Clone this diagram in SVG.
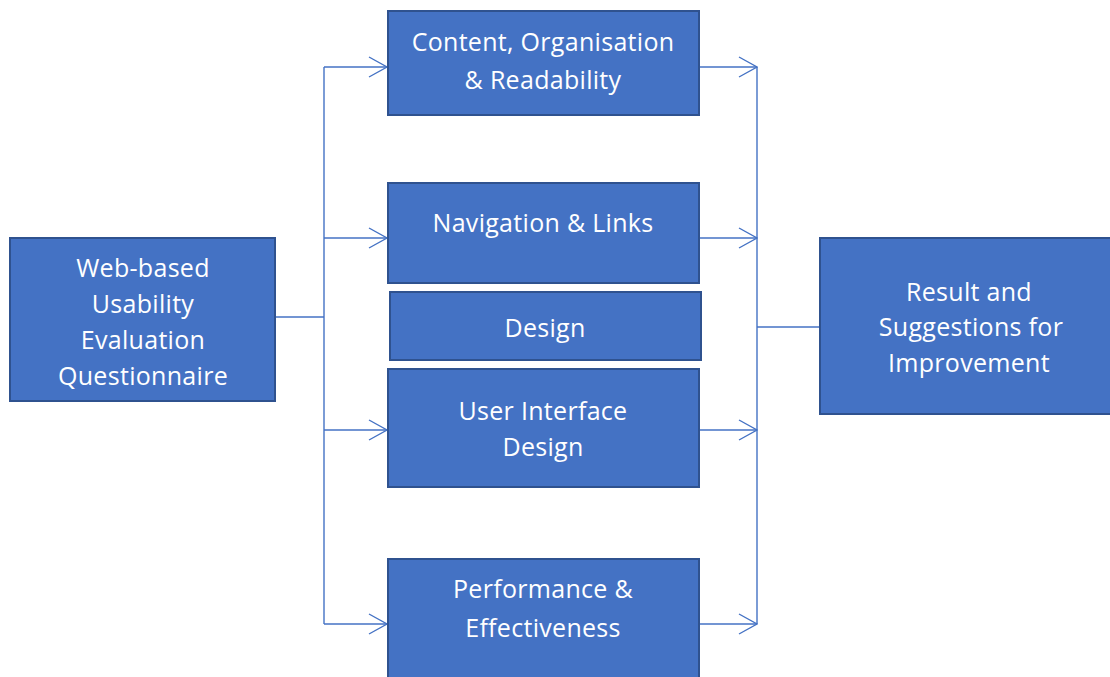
<svg xmlns="http://www.w3.org/2000/svg" width="1110" height="677" viewBox="0 0 1110 677">
  <defs>
    <marker id="arrow" viewBox="0 0 20 22" refX="19" refY="11" markerWidth="20" markerHeight="22" markerUnits="userSpaceOnUse" orient="auto">
      <path d="M1,1 L19,11 L1,21" fill="none" stroke="#4472C4" stroke-width="1.4"/>
    </marker>
  </defs>
  <style>
    .box { fill: #4472C4; stroke: #2F528F; stroke-width: 2; }
    .label { fill: #FFFFFF; font-family: "Open Sans", "Noto Sans", sans-serif; font-size: 25px; letter-spacing: 0.3px; text-anchor: middle; }
    .line { fill: none; stroke: #4472C4; stroke-width: 1.4; }
  </style>
  <rect width="1110" height="677" fill="#FFFFFF"/>

  <g id="connectors">
    <!-- fan-out from the questionnaire -->
    <path class="line" d="M275,317 H324"/>
    <path class="line" d="M324,67 V624"/>
    <path class="line" d="M324,67 H387" marker-end="url(#arrow)"/>
    <path class="line" d="M324,238 H387" marker-end="url(#arrow)"/>
    <path class="line" d="M324,430 H387" marker-end="url(#arrow)"/>
    <path class="line" d="M324,624 H387" marker-end="url(#arrow)"/>
    <!-- fan-in to the results -->
    <path class="line" d="M699,67 H757" marker-end="url(#arrow)"/>
    <path class="line" d="M699,238 H757" marker-end="url(#arrow)"/>
    <path class="line" d="M699,430 H757" marker-end="url(#arrow)"/>
    <path class="line" d="M699,624 H757" marker-end="url(#arrow)"/>
    <path class="line" d="M757,67 V624"/>
    <path class="line" d="M757,327 H820"/>
  </g>

  <g id="questionnaire">
    <rect class="box" x="10" y="238" width="265" height="163"/>
    <text class="label" x="143" y="277">Web-based</text>
    <text class="label" x="143" y="313">Usability</text>
    <text class="label" x="143" y="349">Evaluation</text>
    <text class="label" x="143" y="385">Questionnaire</text>
  </g>

  <g id="content">
    <rect class="box" x="388" y="11" width="311" height="104"/>
    <text class="label" x="543" y="51">Content, Organisation</text>
    <text class="label" x="543" y="89">&amp; Readability</text>
  </g>

  <g id="navigation">
    <rect class="box" x="388" y="183" width="311" height="100"/>
    <text class="label" x="543" y="232">Navigation &amp; Links</text>
  </g>

  <g id="design">
    <rect class="box" x="390" y="292" width="311" height="68"/>
    <text class="label" x="545" y="337">Design</text>
  </g>

  <g id="ui-design">
    <rect class="box" x="388" y="369" width="311" height="118"/>
    <text class="label" x="543" y="420">User Interface</text>
    <text class="label" x="543" y="456">Design</text>
  </g>

  <g id="performance">
    <rect class="box" x="388" y="559" width="311" height="125"/>
    <text class="label" x="543" y="598">Performance &amp;</text>
    <text class="label" x="543" y="637">Effectiveness</text>
  </g>

  <g id="results">
    <rect class="box" x="820" y="238" width="300" height="176"/>
    <text class="label" x="969" y="301">Result and</text>
    <text class="label" x="971" y="336">Suggestions for</text>
    <text class="label" x="969" y="372">Improvement</text>
  </g>
</svg>
